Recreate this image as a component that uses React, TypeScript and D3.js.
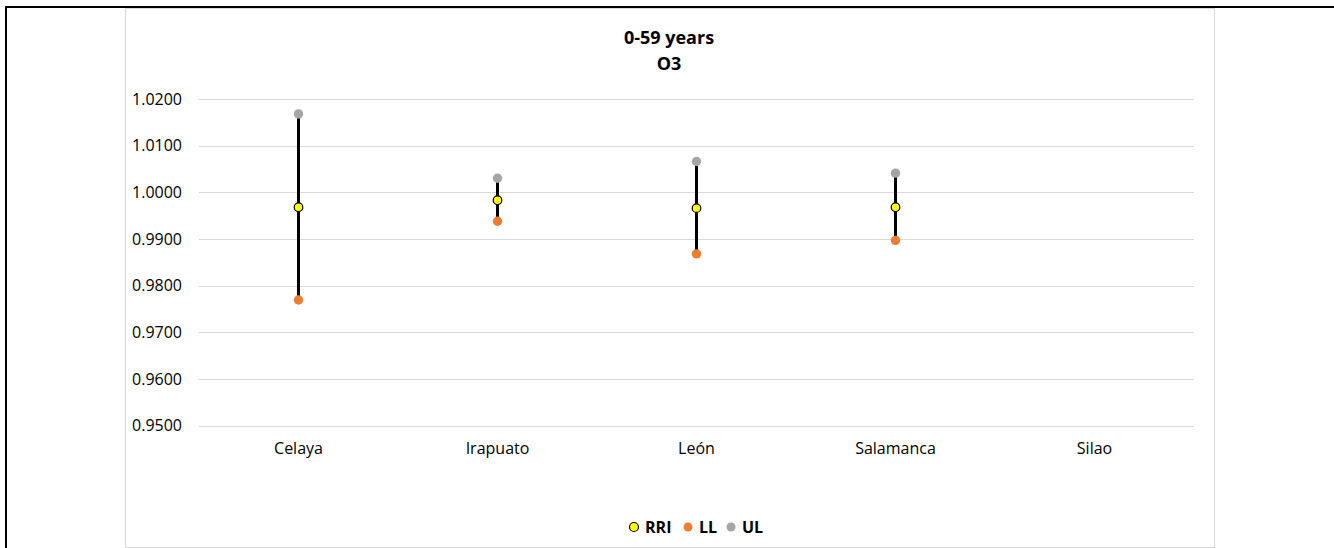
import { useEffect, useRef } from "react";
import * as d3 from "d3";

const categories = ["Celaya", "Irapuato", "León", "Salamanca", "Silao"];
// null = no estimate shown
const rri = [0.9968, 0.9983, 0.9966, 0.9968, null];
const ll = [0.9769, 0.9938, 0.9868, 0.9897, null];
const ul = [1.0168, 1.003, 1.0066, 1.0041, null];
const yTicks = [0.95, 0.96, 0.97, 0.98, 0.99, 1.0, 1.01, 1.02];
const titleLines = ["0-59 years", "O3"];
const legendItems = [
  { key: "RRI", color: "#FFFF00", stroke: "#000" },
  { key: "LL", color: "#ED7D31", stroke: "none" },
  { key: "UL", color: "#A5A5A5", stroke: "none" },
];

const W = 1334;
const H = 548;
const FONT = "'Open Sans', 'Liberation Sans', sans-serif";

export default function App() {
  const ref = useRef<SVGSVGElement>(null);

  useEffect(() => {
    const svg = d3.select(ref.current);
    svg.selectAll("*").remove();

    // outer frame (black lines top + left) and chart box
    svg.append("rect").attr("width", W).attr("height", H).attr("fill", "#fff");
    svg.append("rect")
      .attr("x", 125.5).attr("y", 8.5)
      .attr("width", 1089).attr("height", 539)
      .attr("fill", "#fff").attr("stroke", "#d9d9d9");
    svg.append("path")
      .attr("d", `M6,${H} V7 H${W}`)
      .attr("fill", "none").attr("stroke", "#000").attr("stroke-width", 2);

    const x = d3.scaleBand().domain(categories).range([199, 1194]);
    const y = d3.scaleLinear().domain([0.95, 1.02]).range([425.5, 99]);

    // gridlines
    svg.append("g")
      .selectAll("line")
      .data(yTicks)
      .enter().append("line")
      .attr("x1", 199).attr("x2", 1194)
      .attr("y1", d => Math.round(y(d)) + 0.5)
      .attr("y2", d => Math.round(y(d)) + 0.5)
      .attr("stroke", "#d9d9d9").attr("stroke-width", 1);

    // y tick labels
    svg.append("g")
      .selectAll("text")
      .data(yTicks)
      .enter().append("text")
      .attr("x", 182)
      .attr("y", d => y(d))
      .attr("dy", "0.36em")
      .attr("text-anchor", "end")
      .style("font-family", FONT)
      .style("font-size", "16px")
      .attr("fill", "#000")
      .text(d => d3.format(".4f")(d));

    // category labels
    svg.append("g")
      .selectAll("text")
      .data(categories)
      .enter().append("text")
      .attr("x", d => x(d)! + x.bandwidth() / 2)
      .attr("y", 454)
      .attr("text-anchor", "middle")
      .style("font-family", FONT)
      .style("font-size", "16px")
      .attr("fill", "#000")
      .text(d => d);

    const rows = categories
      .map((c, i) => ({ c, rri: rri[i], ll: ll[i], ul: ul[i] }))
      .filter(d => d.rri != null);
    const cx = (c: string) => x(c)! + x.bandwidth() / 2;

    // high-low lines
    svg.append("g")
      .selectAll("line")
      .data(rows)
      .enter().append("line")
      .attr("x1", d => cx(d.c)).attr("x2", d => cx(d.c))
      .attr("y1", d => y(d.ll as number))
      .attr("y2", d => y(d.ul as number))
      .attr("stroke", "#000").attr("stroke-width", 3);

    const marks = svg.append("g");
    rows.forEach(d => {
      marks.append("circle")
        .attr("cx", cx(d.c)).attr("cy", y(d.ll as number)).attr("r", 4.7)
        .attr("fill", "#ED7D31");
      marks.append("circle")
        .attr("cx", cx(d.c)).attr("cy", y(d.ul as number)).attr("r", 4.7)
        .attr("fill", "#A5A5A5");
      marks.append("circle")
        .attr("cx", cx(d.c)).attr("cy", y(d.rri as number)).attr("r", 4.3)
        .attr("fill", "#FFFF00").attr("stroke", "#000").attr("stroke-width", 1.2);
    });

    // title
    svg.append("g")
      .selectAll("text")
      .data(titleLines)
      .enter().append("text")
      .attr("x", 669)
      .attr("y", (_, i) => 44 + i * 26)
      .attr("text-anchor", "middle")
      .style("font-family", FONT)
      .style("font-size", "18px")
      .style("font-weight", "bold")
      .attr("fill", "#000")
      .text(d => d);

    // legend
    const legendX = [634, 688, 731];
    const legend = svg.append("g");
    legendItems.forEach((item, i) => {
      legend.append("circle")
        .attr("cx", legendX[i]).attr("cy", 527).attr("r", 4.5)
        .attr("fill", item.color)
        .attr("stroke", item.stroke).attr("stroke-width", 1.2);
      legend.append("text")
        .attr("x", legendX[i] + 11).attr("y", 533)
        .style("font-family", FONT)
        .style("font-size", "16px")
        .style("font-weight", "bold")
        .attr("fill", "#000")
        .text(item.key);
    });
  }, []);

  return (
    <svg
      ref={ref}
      width={W}
      height={H}
      style={{ position: "absolute", left: 0, top: 0, display: "block" }}
    />
  );
}
